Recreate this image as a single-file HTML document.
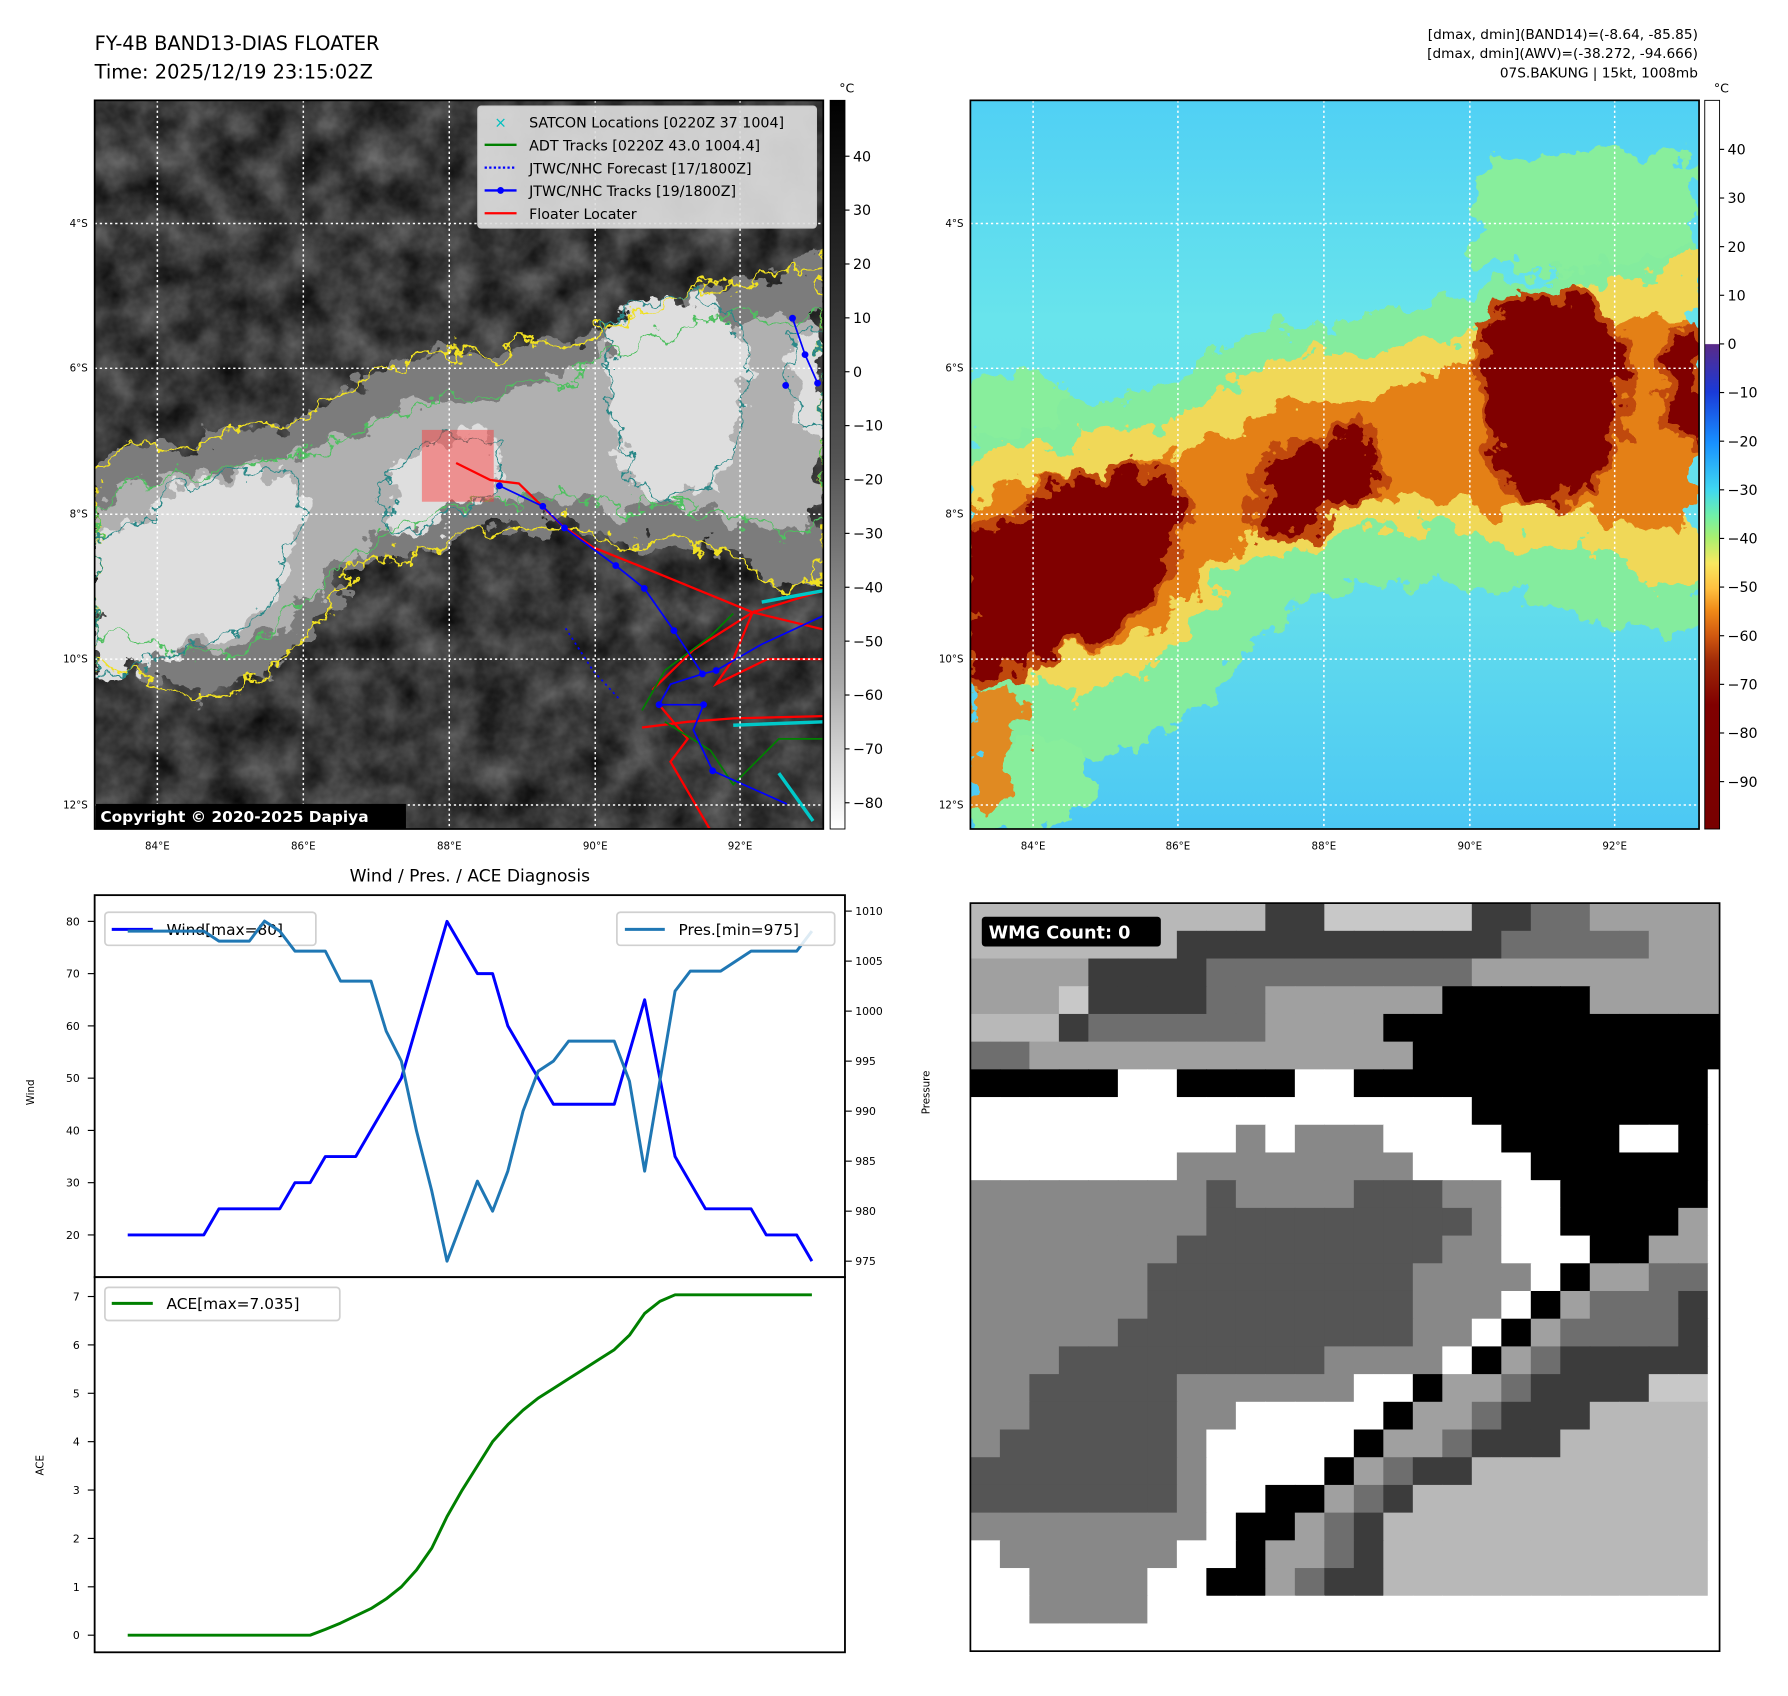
<!DOCTYPE html>
<html><head><meta charset="utf-8">
<style>
html,body{margin:0;padding:0;background:#fff;}
body{width:1788px;height:1690px;overflow:hidden;position:relative;font-family:"Liberation Sans","DejaVu Sans",sans-serif;}
#stage{position:absolute;left:0;top:0;width:1570px;height:1482px;transform:scale(1.1403);transform-origin:0 0;}
</style></head>
<body>
<div id="stage">
<svg width="1570" height="1482" viewBox="0 0 1570 1482" xmlns="http://www.w3.org/2000/svg" font-family="DejaVu Sans, Liberation Sans, sans-serif">
<defs>
  <filter id="rag" x="-10%" y="-10%" width="120%" height="120%">
    <feTurbulence type="fractalNoise" baseFrequency="0.04" numOctaves="4" seed="4" result="t"/>
    <feDisplacementMap in="SourceGraphic" in2="t" scale="46" xChannelSelector="R" yChannelSelector="G"/>
  </filter>
  <filter id="rag2" x="-10%" y="-10%" width="120%" height="120%">
    <feTurbulence type="fractalNoise" baseFrequency="0.05" numOctaves="4" seed="9" result="t"/>
    <feDisplacementMap in="SourceGraphic" in2="t" scale="34" xChannelSelector="R" yChannelSelector="G"/>
  </filter>
  <filter id="noise" x="0" y="0" width="100%" height="100%" color-interpolation-filters="sRGB">
    <feTurbulence type="fractalNoise" baseFrequency="0.03" numOctaves="4" seed="2"/>
    <feColorMatrix type="matrix" values="0.45 0 0 0 0.0  0.45 0 0 0 0.0  0.45 0 0 0 0.0  0 0 0 0 1"/>
  </filter>
  <linearGradient id="cb1" x1="0" y1="0" x2="0" y2="1">
    <stop offset="0" stop-color="#000"/><stop offset="0.5" stop-color="#555"/><stop offset="0.8" stop-color="#aaa"/><stop offset="1" stop-color="#fff"/>
  </linearGradient>
  <linearGradient id="cb2" x1="0" y1="0" x2="0" y2="1">
    <stop offset="0" stop-color="#fff"/><stop offset="0.334" stop-color="#fff"/>
    <stop offset="0.335" stop-color="#5a2a88"/><stop offset="0.40" stop-color="#1a3ad8"/>
    <stop offset="0.47" stop-color="#1890ff"/><stop offset="0.535" stop-color="#40d8f0"/>
    <stop offset="0.57" stop-color="#70f0a8"/><stop offset="0.60" stop-color="#a8f070"/>
    <stop offset="0.635" stop-color="#f8e860"/><stop offset="0.67" stop-color="#ffc040"/>
    <stop offset="0.70" stop-color="#f08a18"/><stop offset="0.735" stop-color="#d05810"/>
    <stop offset="0.77" stop-color="#a02a08"/><stop offset="0.83" stop-color="#800000"/>
    <stop offset="1" stop-color="#780000"/>
  </linearGradient>
  <linearGradient id="sea" x1="0" y1="0" x2="0" y2="1">
    <stop offset="0" stop-color="#50d0f4"/><stop offset="0.3" stop-color="#68e4ec"/><stop offset="0.7" stop-color="#62dcec"/><stop offset="1" stop-color="#4cc8f4"/>
  </linearGradient>
  <path id="envP" d="M0,285 L80,270 160,255 260,200 360,190 460,165 560,130 639,120 L639,470 560,460 480,430 420,425 360,420 300,440 250,470 200,540 140,570 60,590 0,600 Z"/>
  <path id="outerP" d="M0,325 L30,300 70,310 110,290 170,285 210,260 245,240 285,225 320,220 350,228 380,210 420,212 460,195 500,178 540,160 575,160 600,150 639,140 L639,420 600,430 575,405 540,395 500,385 460,395 420,370 390,375 350,375 315,380 290,400 250,400 220,420 195,460 160,495 120,520 80,525 40,500 0,500 Z"/>
  <path id="midP" d="M0,355 L40,335 90,325 150,318 190,308 230,290 265,272 300,262 340,262 380,250 420,245 450,222 490,208 540,190 580,188 620,192 639,188 L639,365 610,382 580,372 540,362 500,352 460,362 420,345 380,352 340,348 300,362 270,372 240,392 210,415 180,445 150,472 110,485 70,482 30,470 0,465 Z"/>
  <path id="innerP" d="M0,380 L40,370 70,340 120,325 175,330 185,360 170,400 150,440 120,470 90,475 60,490 30,500 0,510 Z M255,330 L290,300 330,295 355,300 350,340 320,360 290,375 260,380 Z M450,200 L480,175 520,170 560,190 575,230 565,300 540,340 500,350 470,330 455,280 Z M610,210 L639,205 639,290 615,285 Z"/>
  <clipPath id="mapclip"><rect x="0" y="0" width="639" height="639"/></clipPath>
</defs>

<text x="83" y="44" font-size="17" fill="#000">FY-4B BAND13-DIAS FLOATER</text>
<text x="83" y="69" font-size="17" fill="#000">Time: 2025/12/19 23:15:02Z</text>
<g font-size="12" text-anchor="end" fill="#000">
  <text x="1489" y="34">[dmax, dmin](BAND14)=(-8.64, -85.85)</text>
  <text x="1489" y="51">[dmax, dmin](AWV)=(-38.272, -94.666)</text>
  <text x="1489" y="68">07S.BAKUNG | 15kt, 1008mb</text>
</g>

<!-- LEFT MAP -->
<g transform="translate(83,88)">
  <g clip-path="url(#mapclip)">
    <rect width="639" height="639" fill="#3a3a3a"/>
    <rect width="639" height="639" filter="url(#noise)"/>
    <g filter="url(#rag)">
      <use href="#outerP" fill="#7c7c7c"/>
      <use href="#midP" fill="#b0b0b0"/>
      <use href="#innerP" fill="#dedede"/>
    </g>
    <g filter="url(#rag2)" fill="none">
      <use href="#outerP" stroke="#f0e020" stroke-width="2"/>
      <use href="#midP" stroke="#50c060" stroke-width="1.6"/>
      <use href="#innerP" stroke="#2a8888" stroke-width="1.6"/>
    </g>
    <rect x="287" y="289" width="63" height="63" fill="#ff3030" opacity="0.45"/>
    <polyline points="317,318 347,333 372,336 409,372 437,392 487,412 577,449 639,464" fill="none" stroke="#ff0000" stroke-width="2"/>
    <polyline points="577,449 639,430" fill="none" stroke="#ff0000" stroke-width="2"/>
    <polyline points="489,517 525,482 577,449 560,490 545,512 590,490 639,490" fill="none" stroke="#ff0000" stroke-width="2"/>
    <polyline points="480,550 520,545 560,542 639,540" fill="none" stroke="#ff0000" stroke-width="2"/>
    <polyline points="495,530 520,560 505,580 540,640" fill="none" stroke="#ff0000" stroke-width="2"/>
    <polyline points="480,535 500,500 540,470 560,450" fill="none" stroke="#008000" stroke-width="1.5"/>
    <polyline points="500,545 540,570 560,600 600,560 639,560" fill="none" stroke="#008000" stroke-width="1.5"/>
    <polyline points="413,463 437,500 460,525" fill="none" stroke="#0000ff" stroke-width="1.5" stroke-dasharray="2,3"/>
    <polyline points="355,338 393,356 412,375 457,408 482,428 508,465 533,503 545,500 585,477 639,452" fill="none" stroke="#0000ff" stroke-width="1.5"/>
    <polyline points="533,503 505,512 495,530 534,530 525,552 542,588 607,617" fill="none" stroke="#0000ff" stroke-width="1.5"/>
    <polyline points="612,191 623,223 634,248 M600,250 639,250" fill="none" stroke="#0000ff" stroke-width="1.5"/>
    <g fill="#0000ff">
      <circle cx="355" cy="338" r="3"/><circle cx="393" cy="356" r="3"/><circle cx="412" cy="375" r="3"/><circle cx="457" cy="408" r="3"/><circle cx="482" cy="428" r="3"/><circle cx="508" cy="465" r="3"/><circle cx="533" cy="503" r="3"/><circle cx="545" cy="500" r="3"/><circle cx="495" cy="530" r="3"/><circle cx="534" cy="530" r="3"/><circle cx="542" cy="588" r="3"/><circle cx="612" cy="191" r="3"/><circle cx="623" cy="223" r="3"/><circle cx="634" cy="248" r="3"/><circle cx="606" cy="250" r="3"/>
    </g>
    <g stroke="#00c8c8" stroke-width="3" fill="none">
      <polyline points="585,440 639,430"/><polyline points="560,548 639,545"/><polyline points="600,590 630,632"/>
    </g>
    <g stroke="#fff" stroke-width="1.3" stroke-dasharray="2,2.5">
      <line x1="55" y1="0" x2="55" y2="639"/><line x1="183" y1="0" x2="183" y2="639"/><line x1="311" y1="0" x2="311" y2="639"/><line x1="439" y1="0" x2="439" y2="639"/><line x1="566" y1="0" x2="566" y2="639"/>
      <line x1="0" y1="108" x2="639" y2="108"/><line x1="0" y1="235" x2="639" y2="235"/><line x1="0" y1="363" x2="639" y2="363"/><line x1="0" y1="490" x2="639" y2="490"/><line x1="0" y1="618" x2="639" y2="618"/>
    </g>
    <rect x="1" y="617" width="272" height="22" fill="#000"/>
    <text x="5" y="633" font-size="13.5" font-weight="bold" fill="#fff">Copyright © 2020-2025 Dapiya</text>
    <g>
      <rect x="336" y="5" width="297" height="107" rx="3" fill="#dcdcdc" fill-opacity="0.92" stroke="#c8c8c8"/>
      <text x="356" y="24" font-size="13" fill="#00c0c0" text-anchor="middle">×</text>
      <line x1="342" y1="39" x2="370" y2="39" stroke="#008000" stroke-width="2"/>
      <line x1="342" y1="59" x2="370" y2="59" stroke="#0000ff" stroke-width="2" stroke-dasharray="2,2"/>
      <line x1="342" y1="79" x2="370" y2="79" stroke="#0000ff" stroke-width="2"/><circle cx="356" cy="79" r="3" fill="#0000ff"/>
      <line x1="342" y1="99" x2="370" y2="99" stroke="#ff0000" stroke-width="2"/>
      <g font-size="12.5" fill="#000">
        <text x="381" y="24">SATCON Locations [0220Z 37 1004]</text>
        <text x="381" y="44">ADT Tracks [0220Z 43.0 1004.4]</text>
        <text x="381" y="64">JTWC/NHC Forecast [17/1800Z]</text>
        <text x="381" y="84">JTWC/NHC Tracks [19/1800Z]</text>
        <text x="381" y="104">Floater Locater</text>
      </g>
    </g>
  </g>
  <rect width="639" height="639" fill="none" stroke="#000" stroke-width="1.5"/>
</g>

<!-- RIGHT MAP -->
<g transform="translate(851,88)">
  <g clip-path="url(#mapclip)">
    <rect width="639" height="639" fill="url(#sea)"/>
    <g filter="url(#rag)">
      <use href="#envP" fill="#84ec9e"/>
      <path d="M440,60 L560,40 639,50 639,130 520,150 440,140 Z" fill="#88ee9c"/>
      <path d="M0,240 L60,230 90,270 40,290 0,300 Z" fill="#88ee9c"/>
      <path d="M0,570 L90,560 120,610 60,639 0,639 Z" fill="#88ee9c"/>
      <use href="#outerP" fill="#f0d858"/>
      <use href="#midP" fill="#e48018"/>
      <path d="M0,515 L45,520 40,610 0,620 Z" fill="#e08a20"/>
      <use href="#innerP" fill="none" stroke="#c04a10" stroke-width="16"/>
      <use href="#innerP" fill="#800000"/>
    </g>
    <g stroke="#fff" stroke-width="1.3" stroke-dasharray="2,2.5">
      <line x1="55" y1="0" x2="55" y2="639"/><line x1="182" y1="0" x2="182" y2="639"/><line x1="310" y1="0" x2="310" y2="639"/><line x1="438" y1="0" x2="438" y2="639"/><line x1="565" y1="0" x2="565" y2="639"/>
      <line x1="0" y1="108" x2="639" y2="108"/><line x1="0" y1="235" x2="639" y2="235"/><line x1="0" y1="363" x2="639" y2="363"/><line x1="0" y1="490" x2="639" y2="490"/><line x1="0" y1="618" x2="639" y2="618"/>
    </g>
  </g>
  <rect width="639" height="639" fill="none" stroke="#000" stroke-width="1.5"/>
</g>

<g font-size="9" fill="#000" text-anchor="end">
  <text x="77" y="199">4°S</text><text x="77" y="326">6°S</text><text x="77" y="454">8°S</text><text x="77" y="581">10°S</text><text x="77" y="709">12°S</text>
  <text x="845" y="199">4°S</text><text x="845" y="326">6°S</text><text x="845" y="454">8°S</text><text x="845" y="581">10°S</text><text x="845" y="709">12°S</text>
</g>
<g font-size="9" fill="#000" text-anchor="middle">
  <text x="138" y="745">84°E</text><text x="266" y="745">86°E</text><text x="394" y="745">88°E</text><text x="522" y="745">90°E</text><text x="649" y="745">92°E</text>
  <text x="906" y="745">84°E</text><text x="1033" y="745">86°E</text><text x="1161" y="745">88°E</text><text x="1289" y="745">90°E</text><text x="1416" y="745">92°E</text>
</g>

<g>
  <rect x="728" y="88" width="13" height="639" fill="url(#cb1)" stroke="#000" stroke-width="0.8"/>
  <text x="736" y="81" font-size="11">°C</text>
  <g id="cb1ticks" font-size="12.5"></g>
</g>
<g>
  <rect x="1495" y="88" width="13" height="639" fill="url(#cb2)" stroke="#000" stroke-width="0.8"/>
  <text x="1503" y="81" font-size="11">°C</text>
  <g id="cb2ticks" font-size="12.5"></g>
</g>

<text x="412" y="773" font-size="15" text-anchor="middle">Wind / Pres. / ACE Diagnosis</text>
<g id="chart"></g>

<g>
  <svg x="851" y="792" width="657" height="656" viewBox="0 0 657 656"><g id="wmg"></g></svg>
  <rect x="851" y="792" width="657" height="656" fill="none" stroke="#000" stroke-width="1.5"/>
  <rect x="861" y="804" width="157" height="26" rx="3" fill="#000"/>
  <text x="867" y="823" font-size="15.5" font-weight="bold" fill="#fff">WMG Count: 0</text>
</g>
</svg>
</div>
<script>
const idx = Array.from({length: 46}, (_, i) => i);
const windValues = [20,20,20,20,20,20,25,25,25,25,25,30,30,35,35,35,40,45,50,60,70,80,75,70,70,60,55,50,45,45,45,45,45,55,65,50,35,30,25,25,25,25,20,20,20,15];
const presValues = [1008,1008,1008,1008,1008,1008,1007,1007,1007,1009,1008,1006,1006,1006,1003,1003,1003,998,995,988,982,975,979,983,980,984,990,994,995,997,997,997,997,993,984,993,1002,1004,1004,1004,1005,1006,1006,1006,1006,1008];
const aceValues = [0,0,0,0,0,0,0,0,0,0,0,0,0,0.12,0.25,0.4,0.55,0.75,1.0,1.35,1.8,2.45,3.0,3.5,4.0,4.35,4.65,4.9,5.1,5.3,5.5,5.7,5.9,6.2,6.65,6.9,7.035,7.035,7.035,7.035,7.035,7.035,7.035,7.035,7.035,7.035];
const windTicks = [20,30,40,50,60,70,80];
const presTicks = [975,980,985,990,995,1000,1005,1010];
const aceTicks = [0,1,2,3,4,5,6,7];
const cb1Ticks = [40,30,20,10,0,-10,-20,-30,-40,-50,-60,-70,-80];
const cb2Ticks = [40,30,20,10,0,-10,-20,-30,-40,-50,-60,-70,-80,-90];
const wmgRows = [
"PPPPPPPPPPDDQQQQQDDGGLLLLL","PPPPPPPDDDDDDDDDDDGGGGGLLL","LLLLDDDDGGGGGGGGGLLLLLLLLL","LLLQDDDDGGLLLLLLKKKKKLLLLL",
"PPPDGGGGGGLLLLKKKKKKKKKKKK","GGLLLLLLLLLLLLLKKKKKKKKKKK","KKKKKWWKKKKWWKKKKKKKKKKKKW","WWWWWWWWWWWWWWWWWKKKKKKKKW",
"WWWWWWWWWNWNNNWWWWKKKKWWKW","WWWWWWWNNNNNNNNWWWWKKKKKKW","NNNNNNNNMNNNNMMMNNWWKKKKKW","NNNNNNNNMMMMMMMMMNWWKKKKLW",
"NNNNNNNMMMMMMMMMNNWWWKKLLW","NNNNNNMMMMMMMMMNNNNWKLLGGW","NNNNNNMMMMMMMMMNNNWKLGGGDW","NNNNNMMMMMMMMMMNNWKLGGGGDW",
"NNNMMMMMMMMMNNNNWKLGDDDDDW","NNMMMMMNNNNNNWWKLLGDDDDQQW","NNMMMMMNNWWWWWKLLGDDDPPPPW","NMMMMMMNWWWWWKLLGDDDPPPPPW",
"MMMMMMMNWWWWKLGDDPPPPPPPPW","MMMMMMMNWWKKLGDPPPPPPPPPPW","NNNNNNNNWKKLGDPPPPPPPPPPPW","WNNNNNNWWKLLGDPPPPPPPPPPPW",
"WWNNNNWWKKLGDDPPPPPPPPPPPW","WWNNNNWWWWWWWWWWWWWWWWWWWW","WWWWWWWWWWWWWWWWWWWWWWWWWW"];
const grayMap = {K:"#000000",D:"#3c3c3c",M:"#555555",G:"#6e6e6e",N:"#888888",L:"#a0a0a0",P:"#b8b8b8",Q:"#c8c8c8",W:"#ffffff"};

const NS = "http://www.w3.org/2000/svg";
function mk(tag, attrs, parent){const e=document.createElementNS(NS,tag);for(const k in attrs)e.setAttribute(k,attrs[k]);parent.appendChild(e);return e;}
function txt(x,y,s,size,anchor,parent,extra){const t=mk("text",Object.assign({x:x,y:y,"font-size":size,"text-anchor":anchor,fill:"#000"},extra||{}),parent);t.textContent=s;return t;}

const xS = i => 112 + i * (600/45);
const windY = w => 1083 - (w - 20) * (275/60);
const presY = p => 1106 - (p - 975) * (307/35);
const aceY = a => 1434 - a * (297/7);
const cb1Y = v => 137 + (40 - v) * 4.725;
const cb2Y = v => 131 + (40 - v) * 4.265;

const c1 = document.getElementById("cb1ticks");
cb1Ticks.forEach(v=>{const y=cb1Y(v);mk("line",{x1:741,y1:y,x2:745,y2:y,stroke:"#000","stroke-width":1},c1);
  const t=txt(748,y+4.5,(v<0?"\u2212":"")+Math.abs(v),12.5,"start",c1);
  
  });
const c2 = document.getElementById("cb2ticks");
cb2Ticks.forEach(v=>{const y=cb2Y(v);mk("line",{x1:1508,y1:y,x2:1512,y2:y,stroke:"#000","stroke-width":1},c2);
  const t=txt(1515,y+4.5,(v<0?"\u2212":"")+Math.abs(v),12.5,"start",c2);
  
  });

const ch = document.getElementById("chart");
mk("rect",{x:83,y:785,width:658,height:335,fill:"#fff"},ch);
mk("rect",{x:83,y:1120,width:658,height:329,fill:"#fff"},ch);
function linePath(vals, yf){return vals.map((v,i)=>(i?"L":"M")+xS(idx[i]).toFixed(2)+","+yf(v).toFixed(2)).join(" ");}
const wl = mk("path",{d:linePath(windValues,windY),fill:"none",stroke:"#0000ff","stroke-width":2.6,"stroke-linejoin":"round"},ch);


const wlg = mk("g",{},ch);


mk("rect",{x:92,y:800,width:185,height:29,rx:3,fill:"#fff","fill-opacity":0.85,stroke:"#d0d0d0","stroke-width":1.5},wlg);
mk("line",{x1:98,y1:815,x2:134,y2:815,stroke:"#0000ff","stroke-width":2.6},wlg);
txt(146,820,"Wind[max=80]",13.5,"start",wlg);
const pl = mk("path",{d:linePath(presValues,presY),fill:"none",stroke:"#1f77b4","stroke-width":2.6,"stroke-linejoin":"round"},ch);


const plg = mk("g",{},ch);


mk("rect",{x:541,y:800,width:191,height:29,rx:3,fill:"#fff","fill-opacity":0.85,stroke:"#d0d0d0","stroke-width":1.5},plg);
mk("line",{x1:548,y1:815,x2:583,y2:815,stroke:"#1f77b4","stroke-width":2.6},plg);
txt(595,820,"Pres.[min=975]",13.5,"start",plg);
const al = mk("path",{d:linePath(aceValues,aceY),fill:"none",stroke:"#008000","stroke-width":2.6,"stroke-linejoin":"round"},ch);


const alg = mk("g",{},ch);


mk("rect",{x:92,y:1129,width:206,height:29,rx:3,fill:"#fff","fill-opacity":0.85,stroke:"#d0d0d0","stroke-width":1.5},alg);
mk("line",{x1:98,y1:1143,x2:134,y2:1143,stroke:"#008000","stroke-width":2.6},alg);
txt(146,1148,"ACE[max=7.035]",13.5,"start",alg);
mk("rect",{x:83,y:785,width:658,height:335,fill:"none",stroke:"#000","stroke-width":1.6},ch);
mk("rect",{x:83,y:1120,width:658,height:329,fill:"none",stroke:"#000","stroke-width":1.6},ch);
windTicks.forEach(v=>{const y=windY(v);mk("line",{x1:77,y1:y,x2:83,y2:y,stroke:"#000","stroke-width":1},ch);
  const t=txt(70,y+3.5,String(v),9.5,"end",ch);
  
  });
presTicks.forEach(v=>{const y=presY(v);mk("line",{x1:741,y1:y,x2:747,y2:y,stroke:"#000","stroke-width":1},ch);
  const t=txt(750,y+3.5,String(v),9.5,"start",ch);
  
  });
aceTicks.forEach(v=>{const y=aceY(v);mk("line",{x1:77,y1:y,x2:83,y2:y,stroke:"#000","stroke-width":1},ch);
  const t=txt(70,y+3.5,String(v),9.5,"end",ch);
  
  });
const yl1 = txt(0,0,"Wind",9,"middle",ch,{transform:"translate(30,958) rotate(-90)"});


const yl2 = txt(0,0,"Pressure",9,"middle",ch,{transform:"translate(815,958) rotate(-90)"});


const yl3 = txt(0,0,"ACE",9,"middle",ch,{transform:"translate(38,1285) rotate(-90)"});



const wg = document.getElementById("wmg");
const cw = 657/25.4, chh = 656/27;
wmgRows.forEach((row,r)=>{for(let c=0;c<row.length;c++){
  const rc = mk("rect",{x:(c*cw).toFixed(2),y:(r*chh).toFixed(2),width:(cw+0.6).toFixed(2),height:(chh+0.6).toFixed(2),fill:grayMap[row[c]]},wg);
  
  
}});
</script>
</body></html>
